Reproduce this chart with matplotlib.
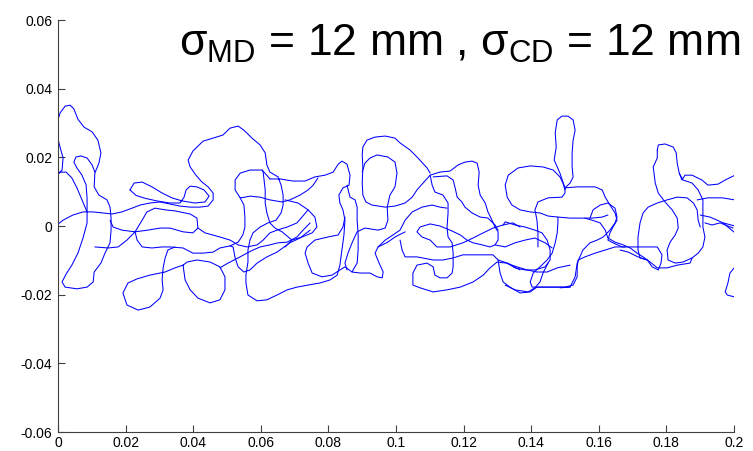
import matplotlib
matplotlib.use("Agg")
import matplotlib.pyplot as plt
import numpy as np

plt.rcParams['font.family'] = ['Liberation Sans', 'DejaVu Sans']
plt.rcParams['mathtext.fontset'] = 'custom'
plt.rcParams['mathtext.rm'] = 'Liberation Sans'
plt.rcParams['mathtext.it'] = 'Liberation Sans'

# Curve points in millimetres (x, y); axis values are metres (mm / 1000)
c01 = [(-0.3,14.8),(1.2,16.3),(1.5,19.8),(0.6,23.0),(-0.3,26.5),(-0.3,30.0),(0.6,32.9),(2.1,34.9),(3.6,35.2),(4.7,34.1),(5.9,31.1),(7.7,28.8),(10.1,27.4),(11.8,25.0),(12.7,21.3),(12.1,18.3),(10.9,15.4),(10.7,11.4),(12.1,9.0),(14.5,7.6),(15.4,5.5),(15.7,2.3),(15.7,-1.2),(15.4,-4.9),(13.9,-7.9),(12.7,-10.8),(10.7,-13.4),(10.4,-16.3),(8.6,-17.8),(5.6,-18.3),(2.1,-17.8),(1.2,-16.3),(2.4,-14.0),(4.1,-11.4),(5.9,-7.9),(7.4,-3.5),(8.6,0.9),(8.6,4.1),(7.1,7.6),(5.6,11.1),(4.1,14.0),(2.4,15.7),(0.6,15.7),(-0.3,14.8)]
c02 = [(8.6,4.1),(8.6,8.2),(8.3,12.0),(7.1,14.8),(5.6,16.9),(4.7,18.6),(5.3,20.1),(6.8,20.4),(8.6,19.8),(10.1,17.8),(10.9,15.7)]
c03 = [(-0.3,0.3),(1.5,1.7),(4.4,3.2),(7.4,4.1),(10.4,4.1),(13.3,3.8),(16.0,3.5),(18.9,4.1),(21.9,5.2),(24.3,6.1),(27.2,6.7),(30.2,7.0),(33.1,6.4),(36.1,5.8),(39.1,5.5),(42.0,5.5),(44.4,5.8),(45.9,7.6),(45.9,9.6),(44.4,11.4),(42.6,12.8),(40.8,14.8),(39.1,17.2),(38.5,19.2),(39.9,21.8),(42.9,24.7),(45.9,25.6),(48.8,26.5),(50.9,28.5),(53.3,29.1),(55.0,27.9),(57.4,25.6),(59.8,23.6),(61.3,21.3),(61.8,17.8),(62.7,15.7),(65.1,14.3),(66.0,11.9),(66.6,9.0),(66.6,6.1),(66.0,3.8),(64.5,1.7),(62.1,0.9),(59.8,-0.3),(57.7,-2.0),(56.8,-4.1),(56.2,-7.0),(56.2,-10.5),(55.6,-14.3),(55.6,-16.6),(56.2,-20.1),(58.9,-21.8),(61.8,-21.5),(64.8,-20.1),(67.8,-18.6),(70.7,-17.8),(74.0,-17.2),(77.5,-16.6),(80.5,-15.7),(82.6,-14.3),(83.4,-11.4),(84.0,-7.0),(84.6,-2.6),(84.9,1.7),(84.3,4.7),(83.4,6.7),(83.1,9.0),(84.3,11.1),(86.1,11.9),(86.4,14.8),(85.5,18.0),(84.0,18.9),(82.9,18.0),(81.4,15.7),(79.0,14.8),(76.0,14.3),(73.1,13.1),(69.5,13.1),(65.7,13.7),(62.7,13.7)]
c04 = [(62.7,13.7),(60.4,16.3),(56.8,16.3),(53.9,15.4),(52.4,13.4),(52.4,10.5),(53.9,8.2),(55.0,6.1),(55.3,2.6),(55.3,-0.3),(54.7,-2.6),(53.3,-4.7),(50.9,-5.8),(47.9,-6.4),(45.9,-7.6),(42.9,-7.9),(39.9,-7.9),(37.0,-6.4),(33.1,-6.1),(30.8,-6.1),(27.8,-6.4),(24.9,-6.1),(23.4,-4.1),(22.8,-1.7)]
c05 = [(15.4,1.7),(16.3,-0.3),(18.9,-1.2),(22.8,-1.7),(26.6,-1.2),(30.2,-0.6),(33.1,-0.6),(37.0,-1.7),(39.9,-2.0),(41.4,-0.6),(41.1,2.3),(39.1,3.5),(34.6,4.4),(31.7,4.7),(28.7,5.2),(26.3,4.1),(24.9,1.7),(22.8,-1.7),(20.4,-4.1),(17.8,-6.1),(14.8,-6.4),(10.9,-6.1)]
c06 = [(21.3,10.5),(22.5,12.5),(24.9,12.8),(27.8,11.4),(30.8,9.6),(33.7,8.2),(36.7,7.3),(40.5,6.7),(43.5,7.0),(44.7,8.7),(43.2,10.5),(41.1,11.4),(39.1,11.6),(37.9,10.5),(37.3,8.4),(36.1,6.7),(33.1,6.7),(29.3,7.3),(26.0,8.0),(23.1,8.9),(21.3,10.5)]
c07 = [(34.6,-6.1),(32.5,-7.0),(31.7,-9.3),(31.1,-12.2),(30.8,-15.7),(31.1,-18.6),(30.2,-21.0),(27.2,-23.6),(23.7,-24.5),(20.4,-23.0),(19.2,-19.5),(20.7,-16.6),(23.4,-15.4),(27.2,-14.3),(31.7,-13.4),(34.6,-12.2),(37.0,-11.4),(37.6,-15.7),(39.1,-18.6),(41.4,-21.0),(45.0,-22.4),(47.9,-21.5),(49.4,-18.6),(49.4,-14.8),(47.9,-11.9),(45.0,-10.5),(41.1,-9.9),(38.2,-10.5),(37.0,-11.4)]
c08 = [(47.9,-12.2),(50.3,-10.8),(53.3,-9.3),(55.9,-7.9),(57.7,-7.0),(59.8,-6.1),(62.7,-5.5),(65.1,-4.9),(67.8,-4.7),(70.7,-3.2),(72.5,-1.2),(74.6,0.9)]
c09 = [(41.4,-0.6),(43.5,-2.0),(47.9,-3.2),(50.9,-4.1),(53.3,-5.5),(55.9,-6.1),(58.9,-5.5),(60.7,-4.1),(62.7,-2.0),(64.8,-1.2),(67.8,-0.3),(70.7,0.9),(74.0,4.7)]
c10 = [(53.9,8.2),(55.3,8.4),(56.8,8.7),(59.8,8.4),(62.7,7.6),(66.3,7.0),(68.6,7.6),(71.6,9.0),(74.0,10.5),(75.5,11.9),(76.9,14.0)]
c11 = [(60.4,16.3),(60.7,15.7),(61.3,10.5),(61.3,6.7),(61.8,3.8),(62.7,0.9),(64.2,-0.6),(66.3,-1.7),(69.2,-4.1)]
c12 = [(50.9,-5.8),(51.8,-6.1),(52.4,-9.3),(53.3,-11.9),(55.0,-13.4),(56.8,-12.8),(58.9,-10.8),(61.8,-9.0),(64.8,-7.6),(68.6,-4.9),(71.6,-3.5),(74.6,-1.2)]
c13 = [(67.2,7.6),(71.0,6.7),(74.0,4.7),(76.0,2.6),(76.6,-0.3),(75.2,-2.0),(72.2,-3.2),(69.2,-4.1),(67.2,-6.1)]
c14 = [(84.9,2.6),(84.3,-0.3),(82.9,-2.6),(79.9,-3.2),(76.0,-4.1),(73.7,-6.1),(73.1,-7.9),(74.0,-10.8),(75.2,-13.7),(78.1,-14.8),(81.1,-14.3),(83.4,-12.8),(84.9,-11.9),(87.0,-13.4),(89.4,-13.7),(92.3,-13.7),(94.4,-14.8),(95.9,-15.1),(96.2,-13.4),(95.0,-10.8),(93.8,-7.9),(94.7,-6.1),(97.6,-4.7),(99.7,-3.2),(102.7,-1.7)]
c15 = [(110.1,15.4),(109.2,16.9),(106.5,19.8),(104.2,22.1),(101.2,24.2),(99.7,25.6),(96.8,26.2),(93.8,25.9),(91.4,25.0),(90.2,23.0),(90.0,20.7),(90.2,17.2),(90.0,12.5),(90.2,9.0),(91.1,7.0),(92.9,6.1),(96.8,5.5),(99.7,5.8),(102.7,6.7),(104.8,8.4),(106.2,10.5),(108.0,12.5),(110.1,14.8),(113.0,15.7),(116.0,16.0),(118.4,17.8),(120.4,18.6),(122.5,18.9),(124.0,18.3),(124.6,15.7),(124.3,11.9),(124.9,9.0),(126.4,6.7),(127.2,4.1),(128.4,1.7),(129.3,-0.3),(130.2,-1.7),(130.2,-4.1),(129.3,-5.5),(127.8,-6.1),(125.5,-5.5),(122.8,-4.9),(121.0,-4.1),(119.0,-2.6),(116.0,-1.2),(113.0,0.0),(110.1,0.6),(107.1,-0.3),(106.2,-1.7),(107.7,-3.2),(110.1,-4.1),(112.1,-6.1),(116.0,-6.1),(119.8,-4.9),(122.8,-3.5),(125.8,-2.0),(128.7,-0.6),(131.7,0.3),(134.6,0.9),(136.7,-0.3)]
c16 = [(90.0,15.7),(90.8,18.3),(92.3,19.8),(94.4,20.7),(97.6,20.1),(99.7,18.6),(100.3,15.4),(99.7,11.4),(98.2,9.0),(97.4,5.5),(97.6,1.7),(96.8,-0.6),(94.7,-1.2),(90.8,-0.6),(88.5,-1.7),(87.0,-4.9),(85.8,-7.9),(84.9,-10.8),(85.5,-12.8)]
c17 = [(85.5,11.9),(86.4,8.4),(87.9,7.6),(88.5,5.5),(88.5,1.7),(88.8,-2.6),(88.8,-7.0),(88.5,-10.8),(87.3,-12.8),(87.0,-13.4)]
c18 = [(111.0,14.3),(115.1,14.6),(116.9,13.4),(117.5,11.1),(118.1,8.4),(119.5,7.0),(120.4,5.5),(122.5,3.8),(124.9,2.6),(127.2,2.3),(129.3,0.3),(130.2,-1.2)]
c19 = [(110.1,14.8),(110.7,11.9),(111.5,9.9),(113.9,9.0),(115.4,6.7),(115.4,3.8),(115.1,-0.3),(115.4,-3.2),(116.6,-4.9),(116.9,-7.9),(116.9,-11.9),(116.6,-13.7),(115.1,-15.1),(113.0,-15.1),(111.5,-14.3),(111.0,-11.9),(109.2,-10.8),(106.2,-11.4),(105.0,-13.7),(105.0,-17.2),(107.1,-18.0),(111.0,-19.2),(115.1,-18.6),(119.0,-17.8),(122.8,-16.3),(125.8,-14.3),(127.8,-12.2),(129.9,-10.5),(132.6,-10.8),(135.8,-11.9),(138.8,-12.8),(141.7,-13.4),(144.7,-13.4),(147.7,-12.2),(151.5,-11.4)]
c20 = [(94.7,-6.1),(96.8,-4.1),(98.2,-3.2),(101.2,-1.2),(102.7,1.7),(104.8,4.1),(107.7,5.5),(110.7,6.1),(113.0,5.5),(115.1,5.2)]
c21 = [(101.2,-4.1),(101.8,-7.0),(102.7,-9.0),(106.2,-9.0),(111.0,-9.9),(113.9,-9.9),(116.9,-9.3),(119.8,-8.4),(122.8,-8.4),(125.8,-8.4),(128.7,-8.4),(130.2,-9.9),(132.9,-10.8),(136.7,-12.8)]
c22 = [(130.2,-9.9),(130.8,-13.7),(131.7,-16.3),(133.7,-17.8),(136.7,-19.5),(139.7,-19.2),(141.7,-17.8),(144.1,-17.8),(148.5,-17.8),(151.5,-17.8)]
c23 = [(150.0,10.5),(149.4,12.5),(148.5,14.3),(146.5,16.3),(143.5,17.2),(139.7,17.5),(136.1,16.9),(133.2,14.8),(132.3,11.9),(132.9,8.4),(134.3,6.1),(136.7,4.7),(139.7,4.1),(142.6,3.8),(145.0,2.9),(147.9,2.6),(151.5,2.3),(155.0,2.3),(158.0,2.3),(161.0,2.6),(162.7,3.2)]
c24 = [(142.0,-6.1),(142.0,-2.0),(141.7,1.7),(141.1,4.7),(142.0,7.0),(145.0,8.2),(149.1,8.4),(150.0,9.6),(150.0,11.1),(149.4,12.8),(148.5,15.4),(147.7,17.2),(146.8,19.2),(147.4,23.0),(147.1,27.1),(147.7,30.9),(149.1,32.0),(150.9,32.0),(152.4,30.9),(153.0,27.9),(152.4,25.0),(152.1,21.3),(152.1,17.2),(152.4,14.3),(151.5,12.5),(150.0,11.1),(153.6,11.4),(155.9,11.4),(158.9,11.4),(161.0,10.5),(161.9,8.4),(163.3,6.1),(164.8,3.8),(165.4,1.7),(164.2,-0.3),(163.3,-2.0),(162.7,-4.1),(164.2,-4.9),(166.9,-6.1),(170.7,-6.1),(174.6,-6.1),(177.3,-6.1),(178.7,-8.4),(178.4,-10.8),(177.6,-12.8),(175.8,-11.9),(174.3,-9.9),(171.6,-9.0),(168.7,-7.6),(166.3,-7.0)]
c25 = [(155.9,2.3),(158.0,1.7),(160.4,0.9),(161.9,-1.2),(162.7,-3.5),(164.8,-4.7),(167.2,-5.5),(169.3,-6.4),(171.3,-7.9),(173.1,-9.0),(175.2,-10.5),(177.3,-12.2),(180.2,-12.2),(183.2,-11.4),(187.0,-10.8),(187.6,-9.3)]
c26 = [(157.4,2.3),(158.3,4.7),(160.4,6.1),(162.7,6.7),(164.8,5.2),(165.4,2.6),(164.8,0.9),(163.3,-1.2),(161.3,-3.2),(159.5,-4.1),(157.4,-4.9),(155.3,-7.0),(153.6,-10.8),(153.0,-14.8),(151.5,-17.8),(148.5,-18.0)]
c27 = [(131.7,0.3),(132.3,1.2),(135.2,0.3),(138.2,-0.3),(141.1,-1.2),(143.2,-2.0),(144.7,-4.1),(145.6,-7.0),(145.6,-9.9),(144.1,-11.9),(141.1,-12.8),(138.2,-12.8),(135.2,-12.2),(132.9,-10.8)]
c28 = [(129.3,-5.5),(132.3,-6.1),(135.2,-4.9),(138.2,-4.1),(141.1,-3.5),(144.1,-4.9),(146.2,-6.4)]
c29 = [(147.9,2.6),(147.9,0.9),(147.7,-2.0),(147.1,-4.9),(146.2,-7.9),(144.7,-9.9),(142.6,-11.9),(140.6,-13.7),(139.7,-16.3),(140.3,-17.8),(143.2,-17.8),(147.1,-17.8),(150.0,-17.8),(152.4,-17.2),(153.6,-14.8),(153.6,-11.9),(153.9,-9.9),(155.9,-9.0),(158.9,-7.9),(161.9,-7.0),(164.8,-6.1),(167.8,-6.1)]
c30 = [(132.3,-17.2),(135.2,-18.6),(139.1,-19.2),(141.1,-18.0),(142.6,-16.3),(143.5,-13.7),(145.0,-10.8)]
c31 = [(177.3,22.1),(177.6,23.6),(179.6,23.9),(182.0,23.0),(182.9,21.3),(183.2,18.3),(183.8,15.4),(184.9,13.4),(187.6,12.5),(189.4,10.5),(190.8,7.6),(190.8,3.8),(190.8,-0.3),(191.4,-3.2),(190.8,-6.1),(189.4,-7.9),(187.6,-9.3),(184.9,-10.5),(182.6,-10.8),(180.5,-9.9),(180.2,-7.0),(181.1,-4.7),(182.6,-2.6),(183.5,-0.6),(183.2,2.3),(181.7,4.7),(179.6,7.0),(177.6,9.6),(176.7,12.5),(176.1,17.2),(177.3,19.8),(177.3,22.1)]
c32 = [(174.3,-9.9),(172.2,-9.3),(171.6,-7.0),(171.6,-3.2),(172.2,0.9),(173.1,3.8),(174.6,5.5),(177.3,6.7),(180.2,7.6),(183.2,8.4),(186.1,8.2),(188.0,6.7),(189.1,4.7),(189.4,1.7),(190.0,-0.3)]
c33 = [(183.8,15.4),(184.6,13.4),(185.5,14.8),(187.6,14.8),(190.5,13.4),(192.3,11.9),(195.3,12.2),(197.4,13.4),(200.3,14.8)]
c34 = [(189.1,7.6),(192.3,8.2),(196.5,8.2),(200.3,7.6)]
c35 = [(190.0,3.2),(192.9,2.6),(195.0,1.7),(196.8,0.9),(200.3,0.0)]
c36 = [(191.4,0.9),(193.5,0.3),(195.9,0.9),(197.4,0.3),(199.7,-0.6)]
c37 = [(196.8,0.9),(198.2,-0.3),(200.3,-2.0)]
c38 = [(200.3,-11.9),(198.8,-13.7),(198.2,-16.6),(197.4,-19.2),(198.0,-20.1),(200.3,-20.7)]

curves = [c01, c02, c03, c04, c05, c06, c07, c08, c09, c10, c11, c12, c13,
          c14, c15, c16, c17, c18, c19, c20, c21, c22, c23, c24, c25, c26,
          c27, c28, c29, c30, c31, c32, c33, c34, c35, c36, c37, c38]

xticks = [0, 0.02, 0.04, 0.06, 0.08, 0.1, 0.12, 0.14, 0.16, 0.18, 0.2]
xtick_labels = ['0', '0.02', '0.04', '0.06', '0.08', '0.1', '0.12', '0.14', '0.16', '0.18', '0.2']
yticks = [-0.06, -0.04, -0.02, 0, 0.02, 0.04, 0.06]
ytick_labels = ['-0.06', '-0.04', '-0.02', '0', '0.02', '0.04', '0.06']
title_text = r'σ$_{\mathrm{MD}}$ = 12 mm , σ$_{\mathrm{CD}}$ = 12 mm'

fig = plt.figure(figsize=(7.53, 4.51), dpi=100)
ax = fig.add_axes([58/753, 19/451, 676/753, 412/451])

for c in curves:
    arr = np.array(c) / 1000.0
    ax.plot(arr[:, 0], arr[:, 1], color='#0000ff', lw=0.75,
            solid_joinstyle='round', solid_capstyle='round')

ax.set_xlim(0, 0.2)
ax.set_ylim(-0.06, 0.06)
ax.set_xticks(xticks)
ax.set_xticklabels(xtick_labels)
ax.set_yticks(yticks)
ax.set_yticklabels(ytick_labels)
for s in ['top', 'right']:
    ax.spines[s].set_visible(False)
for s in ['left', 'bottom']:
    ax.spines[s].set_color('#404040')
    ax.spines[s].set_linewidth(0.8)
ax.tick_params(direction='in', length=5, width=0.8, color='#404040',
               labelsize=10, pad=4)
ax.tick_params(axis='x', pad=3)

fig.text(740/753, (451-56)/451, title_text, ha='right', va='baseline',
         fontsize=32, color='black')

fig.savefig('out.png', dpi=100)
